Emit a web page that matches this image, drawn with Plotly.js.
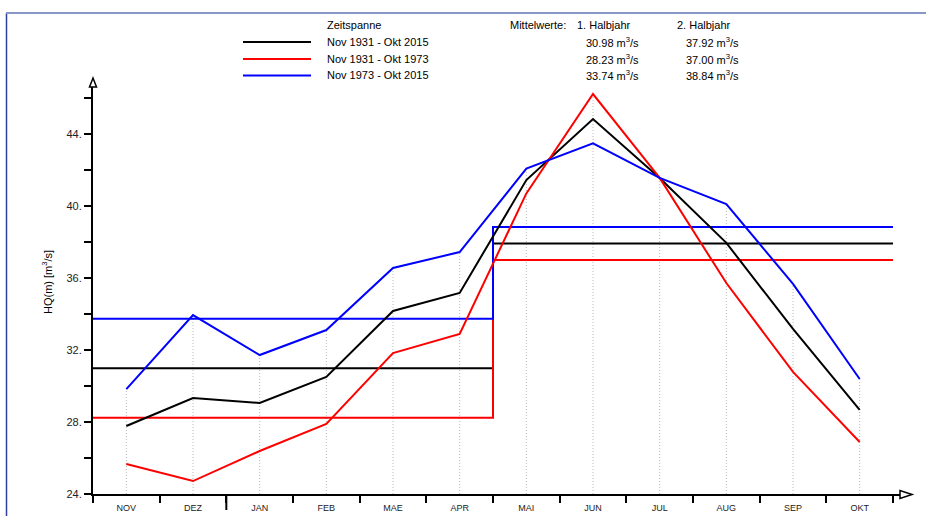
<!DOCTYPE html>
<html>
<head>
<meta charset="utf-8">
<script src="https://cdn.plot.ly/plotly-3.0.1.min.js"></script>
<style>html,body{margin:0;padding:0;background:#fff;}#chart{width:926px;height:516px;}</style>
</head>
<body>
<div id="chart"></div>
<script>
// ---- data ----
const months = ['NOV','DEZ','JAN','FEB','MAE','APR','MAI','JUN','JUL','AUG','SEP','OKT'];
const periods = ['Nov 1931 - Okt 2015', 'Nov 1931 - Okt 1973', 'Nov 1973 - Okt 2015'];
const hq_1931_2015 = [27.78, 29.33, 29.06, 30.50, 34.17, 35.17, 41.44, 44.83, 41.56, 37.95, 33.17, 28.67];
const hq_1931_1973 = [25.67, 24.72, 26.39, 27.89, 31.83, 32.89, 40.70, 46.22, 41.56, 35.72, 30.78, 26.89];
const hq_1973_2015 = [29.83, 33.94, 31.72, 33.11, 36.56, 37.44, 42.08, 43.48, 41.56, 40.11, 35.67, 30.39];
const mean_halbjahr1 = [30.98, 28.23, 33.74];
const mean_halbjahr2 = [37.92, 37.00, 38.84];
const yTickVals = [24, 28, 32, 36, 40, 44];
const yMinorVals = [26, 30, 34, 38, 42, 46];

// ---- geometry ----
const W = 926, H = 516;
const L = 93, R = 900, T = 87, B = 494;
const pw = R - L, ph = B - T;
const xPerPx = 1 / 66.667, yPerPx = 1 / 18;
const xr = [-0.5, -0.5 + pw * xPerPx];
const yr = [24, 24 + ph * yPerPx];
const PX = px => (px - L) / pw;
const PY = py => (B - py) / ph;

const colors = ['#000000', '#ff0000', '#0000ff'];
const series = [hq_1931_2015, hq_1931_1973, hq_1973_2015];
const xs = months.map((m, i) => i);
const half = months.length / 2;
const font = 'Liberation Sans, Arial, sans-serif';

const traces = [];
series.forEach((s, k) => {
  traces.push({
    x: [-0.5, half - 0.5, half - 0.5, months.length - 0.5],
    y: [mean_halbjahr1[k], mean_halbjahr1[k], mean_halbjahr2[k], mean_halbjahr2[k]],
    mode: 'lines', line: {color: colors[k], width: 2}, hoverinfo: 'skip', showlegend: false
  });
});
series.forEach((s, k) => {
  traces.push({
    x: xs, y: s, mode: 'lines', line: {color: colors[k], width: 2}, showlegend: false
  });
});

const shapes = [];
// dotted month guides
xs.forEach(i => {
  const top = Math.max(...series.map(s => s[i]));
  shapes.push({type: 'line', xref: 'x', yref: 'y', x0: i, x1: i, y0: yr[0], y1: top,
    line: {color: '#b8b8b8', width: 1, dash: '1px,2px'}, layer: 'below'});
});
// frame
shapes.push({type: 'line', xref: 'paper', yref: 'paper', x0: PX(6.5), x1: PX(6.5), y0: PY(13), y1: PY(516),
  line: {color: '#2f3fa0', width: 1.5}});
shapes.push({type: 'line', xref: 'paper', yref: 'paper', x0: PX(6), x1: PX(926), y0: PY(13), y1: PY(13),
  line: {color: '#8797c8', width: 2}});
// axis arrows
shapes.push({type: 'path', xref: 'paper', yref: 'paper',
  path: `M ${PX(93)} ${PY(78)} L ${PX(89.5)} ${PY(87)} L ${PX(96.5)} ${PY(87)} Z`,
  fillcolor: '#fff', line: {color: '#000', width: 1.5}});
shapes.push({type: 'path', xref: 'paper', yref: 'paper',
  path: `M ${PX(912)} ${PY(494.5)} L ${PX(900)} ${PY(490.5)} L ${PX(900)} ${PY(498.5)} Z`,
  fillcolor: '#fff', line: {color: '#000', width: 1.5}});
// year-boundary long tick (between DEZ and JAN)
shapes.push({type: 'line', xref: 'x', yref: 'paper', x0: 1.5, x1: 1.5, y0: 0, y1: PY(510),
  line: {color: '#000', width: 2}});
// legend line samples
const rowY = [42, 59, 75.5];
colors.forEach((c, k) => {
  shapes.push({type: 'line', xref: 'paper', yref: 'paper', x0: PX(243), x1: PX(311), y0: PY(rowY[k]), y1: PY(rowY[k]),
    line: {color: c, width: 2}});
});

const ann = [];
const txt = (text, x, y, anchor, size) => ann.push({text, xref: 'paper', yref: 'paper', x: PX(x), y: PY(y),
  xanchor: anchor, yanchor: 'middle', showarrow: false, borderpad: 0,
  font: {family: font, size: size || 11, color: '#000'}});
txt('Zeitspanne', 326, 25, 'left');
periods.forEach((p, k) => txt(p, 326, rowY[k], 'left'));
txt('Mittelwerte:', 509, 25, 'left');
txt('1. Halbjahr', 576, 25, 'left');
txt('2. Halbjahr', 676, 25, 'left');
mean_halbjahr1.forEach((v, k) => txt(v.toFixed(2) + ' m<sup>3</sup>/s', 640, rowY[k], 'right'));
mean_halbjahr2.forEach((v, k) => txt(v.toFixed(2) + ' m<sup>3</sup>/s', 740, rowY[k], 'right'));
ann.push({text: 'HQ(m) [m<sup>3</sup>/s]', xref: 'paper', yref: 'paper', x: PX(47), y: PY(282), textangle: -90,
  xanchor: 'center', yanchor: 'middle', showarrow: false, font: {family: font, size: 11, color: '#000'}});

const layout = {
  width: W, height: H,
  margin: {l: L, r: W - R, t: T, b: H - B, pad: 0},
  paper_bgcolor: '#fff', plot_bgcolor: '#fff',
  font: {family: font, size: 11, color: '#000'},
  showlegend: false,
  xaxis: {
    range: xr, showgrid: false, zeroline: false, showline: true, linecolor: '#000', linewidth: 2,
    tickmode: 'array', tickvals: xs, ticktext: months,
    ticks: 'outside', ticklen: 4, tickcolor: 'rgba(0,0,0,0)',
    tickfont: {family: font, size: 9, color: '#222'},
    minor: {tickmode: 'linear', tick0: -0.5, dtick: 1, ticks: 'outside', ticklen: 7, tickwidth: 2, tickcolor: '#000', showgrid: false},
    fixedrange: true
  },
  yaxis: {
    range: yr, showgrid: false, zeroline: false, showline: true, linecolor: '#000', linewidth: 2,
    tickmode: 'array', tickvals: yTickVals, ticktext: yTickVals.map(v => v + '.'),
    ticks: 'outside', ticklen: 7, tickwidth: 2, tickcolor: '#000',
    tickfont: {family: font, size: 11, color: '#222'},
    minor: {tickmode: 'array', tickvals: yMinorVals, ticks: 'outside', ticklen: 7, tickwidth: 2, tickcolor: '#000', showgrid: false},
    fixedrange: true
  },
  shapes: shapes,
  annotations: ann
};

Plotly.newPlot('chart', traces, layout, {displayModeBar: false, staticPlot: true});
</script>
</body>
</html>
